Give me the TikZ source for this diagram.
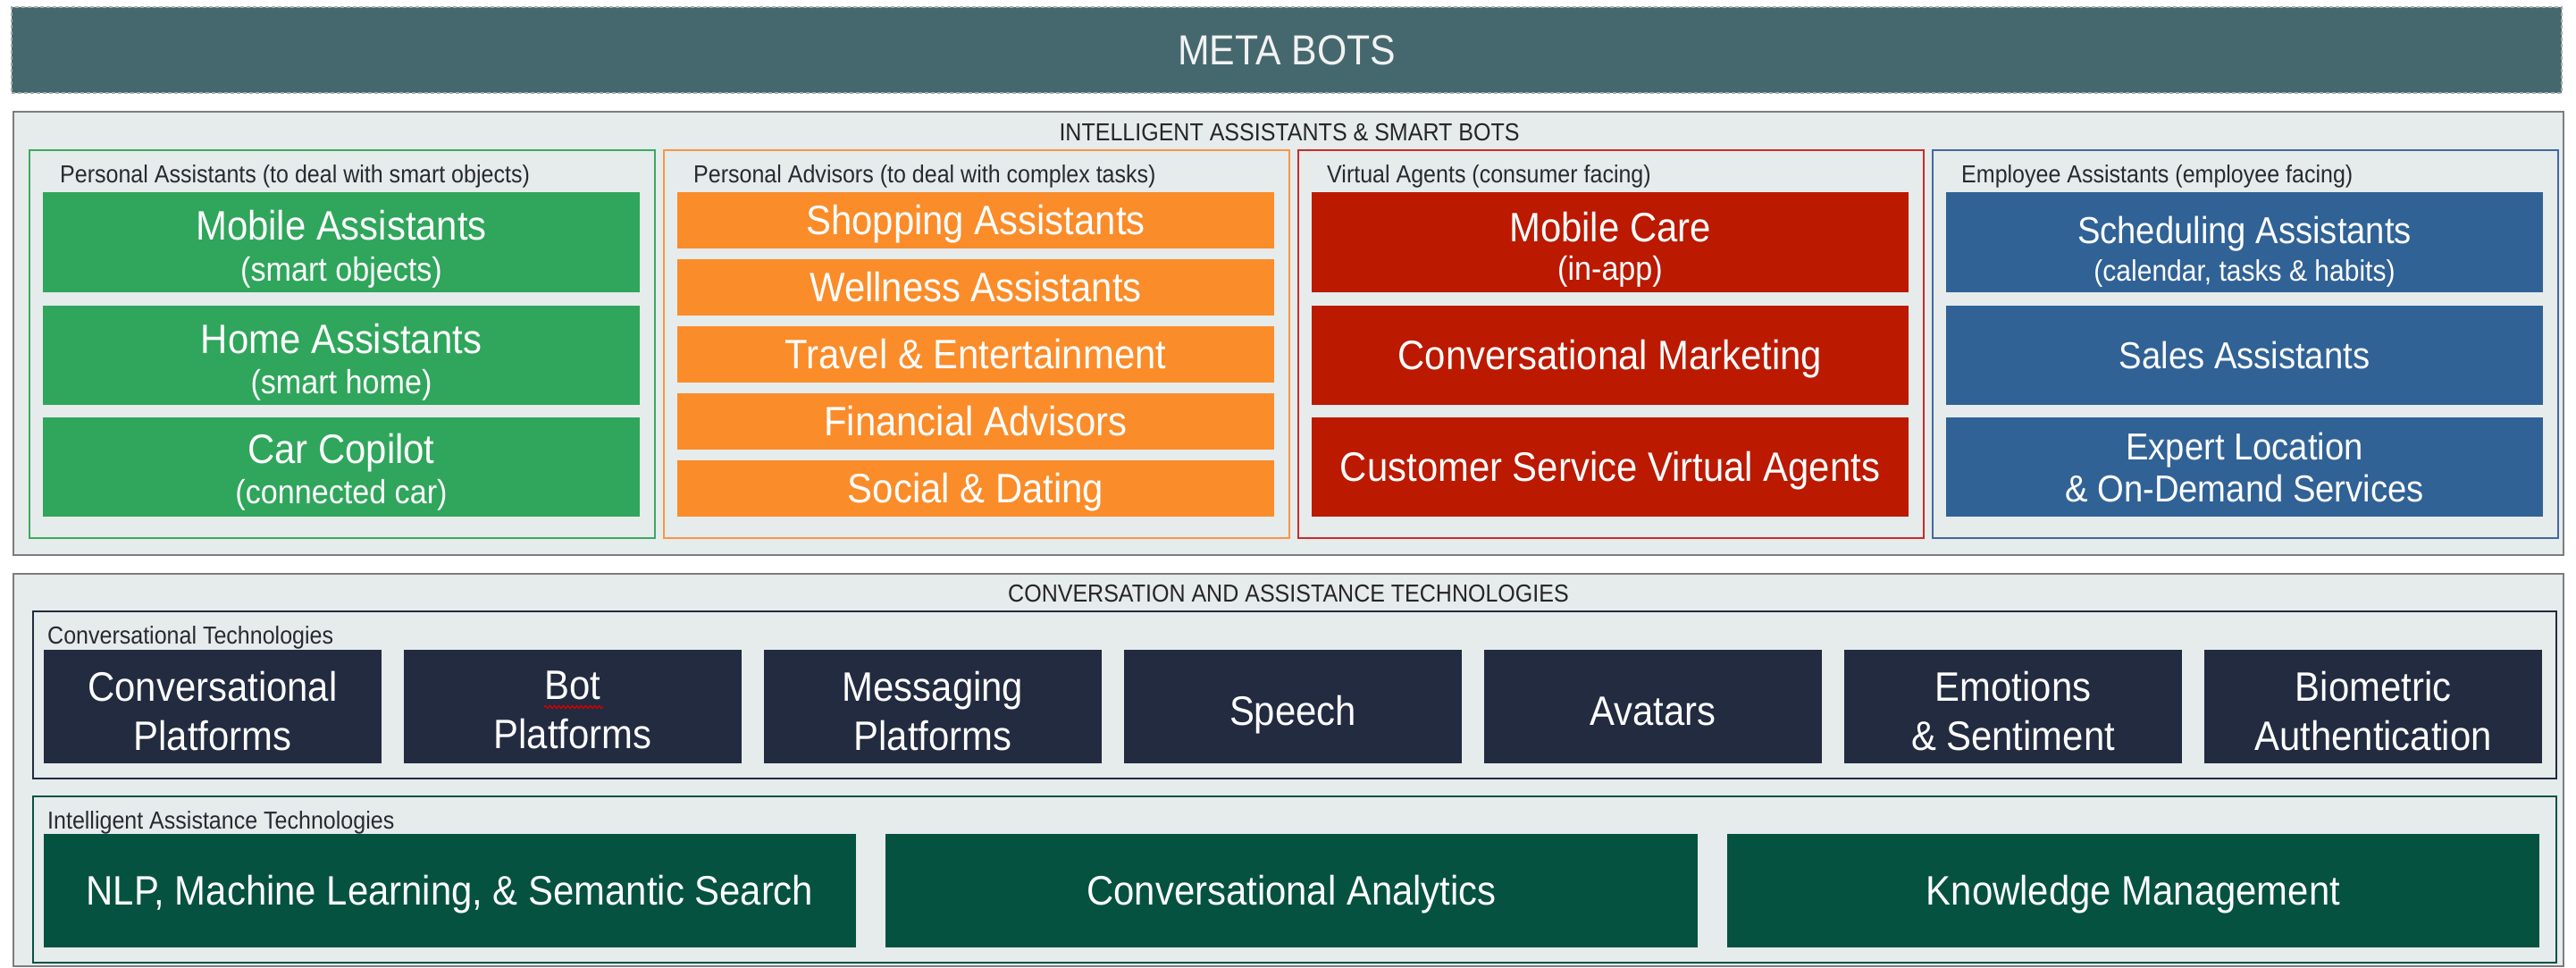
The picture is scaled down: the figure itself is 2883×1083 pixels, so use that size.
\documentclass[tikz,border=0pt]{standalone}
\usepackage{fontspec}
\setmainfont{Liberation Sans}[FakeStretch=0.91]
\usetikzlibrary{decorations.pathmorphing}
\definecolor{banner}{RGB}{69,104,110}
\definecolor{bannerdash}{RGB}{165,170,170}
\definecolor{secbg}{RGB}{230,235,235}
\definecolor{secline}{RGB}{125,125,128}
\definecolor{cgreen}{RGB}{47,166,91}
\definecolor{cgreenline}{RGB}{60,170,95}
\definecolor{corange}{RGB}{250,140,42}
\definecolor{corangeline}{RGB}{250,150,70}
\definecolor{cred}{RGB}{187,25,0}
\definecolor{credline}{RGB}{200,45,45}
\definecolor{cblue}{RGB}{48,98,150}
\definecolor{cblueline}{RGB}{65,105,160}
\definecolor{cnavy}{RGB}{34,43,64}
\definecolor{cdkgreen}{RGB}{5,82,65}
\definecolor{lbltext}{RGB}{40,42,50}
\newcommand\subsz[1]{{\fontsize{37.5}{46}\selectfont #1}}
\newcommand\subsm[1]{{\fontsize{33}{42}\selectfont #1}}
\begin{document}
\begin{tikzpicture}[x=1pt,y=-1pt]
\tikzset{
  basebox/.style={rectangle, inner sep=0pt, outer sep=0pt},
  sect/.style={basebox, fill=secbg, draw=secline, line width=2.5pt},
  grp/.style={basebox, line width=2pt},
  item/.style={basebox, text=white, align=center, font=\fontsize{46}{46}\selectfont,
               text height=32pt, text depth=0pt},
  col/.style={basebox, minimum width=668pt},
  mtxt/.style={inner sep=0pt, anchor=north, text=white, align=center},
  lbl/.style={inner sep=0pt, anchor=base west, text=lbltext, font=\fontsize{27.5}{30}\selectfont},
  ttl/.style={inner sep=0pt, anchor=base, text=black!85, font=\fontsize{27.5}{30}\selectfont},
}
\useasboundingbox (0,0) rectangle (2883,1083);
\fill[white] (0,0) rectangle (2883,1083);

% banner
\node[basebox, fill=banner, draw=bannerdash, line width=1.5pt, dash pattern=on 4pt off 3pt,
      minimum width=2854pt, minimum height=96pt, text=white!95!black,
      font=\fontsize{47}{50}\selectfont, text height=34pt, text depth=0pt] (meta) at (1440,56) {META BOTS};

% section 1
\node[sect, minimum width=2854pt, minimum height=496pt] (s1) at (1442,373) {};
\node[ttl] (s1t) at (1443,158) {INTELLIGENT ASSISTANTS \& SMART BOTS};

\node[grp, draw=cgreenline, minimum width=700pt, minimum height=434pt] (fA) at (383,385) {};
\node[grp, draw=corangeline, minimum width=700pt, minimum height=434pt] (fB) at (1093,385) {};
\node[grp, draw=credline, minimum width=700pt, minimum height=434pt] (fC) at (1803,385) {};
\node[grp, draw=cblueline, minimum width=700pt, minimum height=434pt] (fD) at (2513,385) {};

\node[lbl] (lA) at (67,205) {Personal Assistants (to deal with smart objects)};
\node[lbl] (lB) at (776,205) {Personal Advisors (to deal with complex tasks)};
\node[lbl] (lC) at (1485,205) {Virtual Agents (consumer facing)};
\node[lbl] (lD) at (2195,205) {Employee Assistants (employee facing)};

% green column
\node[col, fill=cgreen, minimum height=112pt] (a1) at (382,271) {};
\node[col, fill=cgreen, minimum height=111pt] (a2) at (382,397) {};
\node[col, fill=cgreen, minimum height=111pt] (a3) at (382,522) {};
\node[mtxt, font=\fontsize{46}{46}\selectfont] (a1t) at (382,235) {Mobile Assistants\\\subsz{(smart objects)}};
\node[mtxt, font=\fontsize{46}{45}\selectfont] (a2t) at (382,362) {Home Assistants\\\subsz{(smart home)}};
\node[mtxt, font=\fontsize{46}{45}\selectfont] (a3t) at (382,485) {Car Copilot\\\subsz{(connected car)}};

% orange column
\node[item, col, fill=corange, minimum height=63pt] (b1) at (1092,246.5) {Shopping Assistants};
\node[item, col, fill=corange, minimum height=63pt] (b2) at (1092,321.5) {Wellness Assistants};
\node[item, col, fill=corange, minimum height=63pt] (b3) at (1092,396.5) {Travel \& Entertainment};
\node[item, col, fill=corange, minimum height=63pt] (b4) at (1092,471.5) {Financial Advisors};
\node[item, col, fill=corange, minimum height=63pt] (b5) at (1092,546.5) {Social \& Dating};

% red column
\node[col, fill=cred, minimum height=112pt] (c1) at (1802,271) {};
\node[mtxt, font=\fontsize{46}{43}\selectfont] (c1t) at (1802,237) {Mobile Care\\\subsz{(in-app)}};
\node[item, col, fill=cred, minimum height=111pt] (c2) at (1802,397) {Conversational Marketing};
\node[item, col, fill=cred, minimum height=111pt] (c3) at (1802,522) {Customer Service Virtual Agents};

% blue column
\node[col, fill=cblue, minimum height=112pt] (d1) at (2512,271) {};
\node[mtxt, font=\fontsize{42}{42}\selectfont] (d1t) at (2512,242) {Scheduling Assistants\\\subsm{(calendar, tasks \& habits)}};
\node[item, col, fill=cblue, minimum height=111pt, font=\fontsize{42}{47}\selectfont, text height=30pt] (d2) at (2512,397) {Sales Assistants};
\node[col, fill=cblue, minimum height=111pt] (d3) at (2512,522) {};
\node[mtxt, font=\fontsize{42}{47}\selectfont] (d3t) at (2512,484) {Expert Location\\\& On-Demand Services};

% section 2
\node[sect, minimum width=2854pt, minimum height=439pt] (s2) at (1442,861.5) {};
\node[ttl] (s2t) at (1442,673) {CONVERSATION AND ASSISTANCE TECHNOLOGIES};

\node[grp, draw=cnavy, line width=2.5pt, minimum width=2824pt, minimum height=187pt] (fE) at (1449,777.5) {};
\node[lbl] (lE) at (53,720) {Conversational Technologies};
\tikzset{tech/.style={basebox, fill=cnavy, minimum width=378pt, minimum height=127pt},
         techtxt/.style={mtxt, font=\fontsize{46}{54.5}\selectfont}}
\node[tech] (t1) at (238,790.5) {};
\node[tech] (t2) at (641,790.5) {};
\node[tech] (t3) at (1044,790.5) {};
\node[tech, item, text height=41pt] (t4) at (1447,790.5) {Speech};
\node[tech, item, text height=41pt] (t5) at (1850,790.5) {Avatars};
\node[tech] (t6) at (2253,790.5) {};
\node[tech] (t7) at (2656,790.5) {};
\node[techtxt] (t1t) at (238,751) {Conversational\\Platforms};
\node[techtxt] (t2t) at (641,751) {Bot\\Platforms};
\node[techtxt] (t3t) at (1044,751) {Messaging\\Platforms};
\node[techtxt] (t6t) at (2253,751) {Emotions\\\& Sentiment};
\node[techtxt] (t7t) at (2656,751) {Biometric\\Authentication};
\coordinate (sqA) at (609,791);
\coordinate (sqB) at (675,791);
\draw[red!85!black, line width=1.2pt, decorate, decoration={snake, amplitude=1.6pt, segment length=5pt}] (sqA) -- (sqB);

\node[grp, draw=cdkgreen, line width=2.5pt, minimum width=2824pt, minimum height=186pt] (fF) at (1449,984) {};
\node[lbl] (lF) at (53,927) {Intelligent Assistance Technologies};
\tikzset{intel/.style={item, fill=cdkgreen, minimum width=909pt, minimum height=127pt}}
\node[intel] (g1) at (503.5,996.5) {NLP, Machine Learning, \& Semantic Search};
\node[intel] (g2) at (1445.5,996.5) {Conversational Analytics};
\node[intel] (g3) at (2387.5,996.5) {Knowledge Management};
\end{tikzpicture}
\end{document}
